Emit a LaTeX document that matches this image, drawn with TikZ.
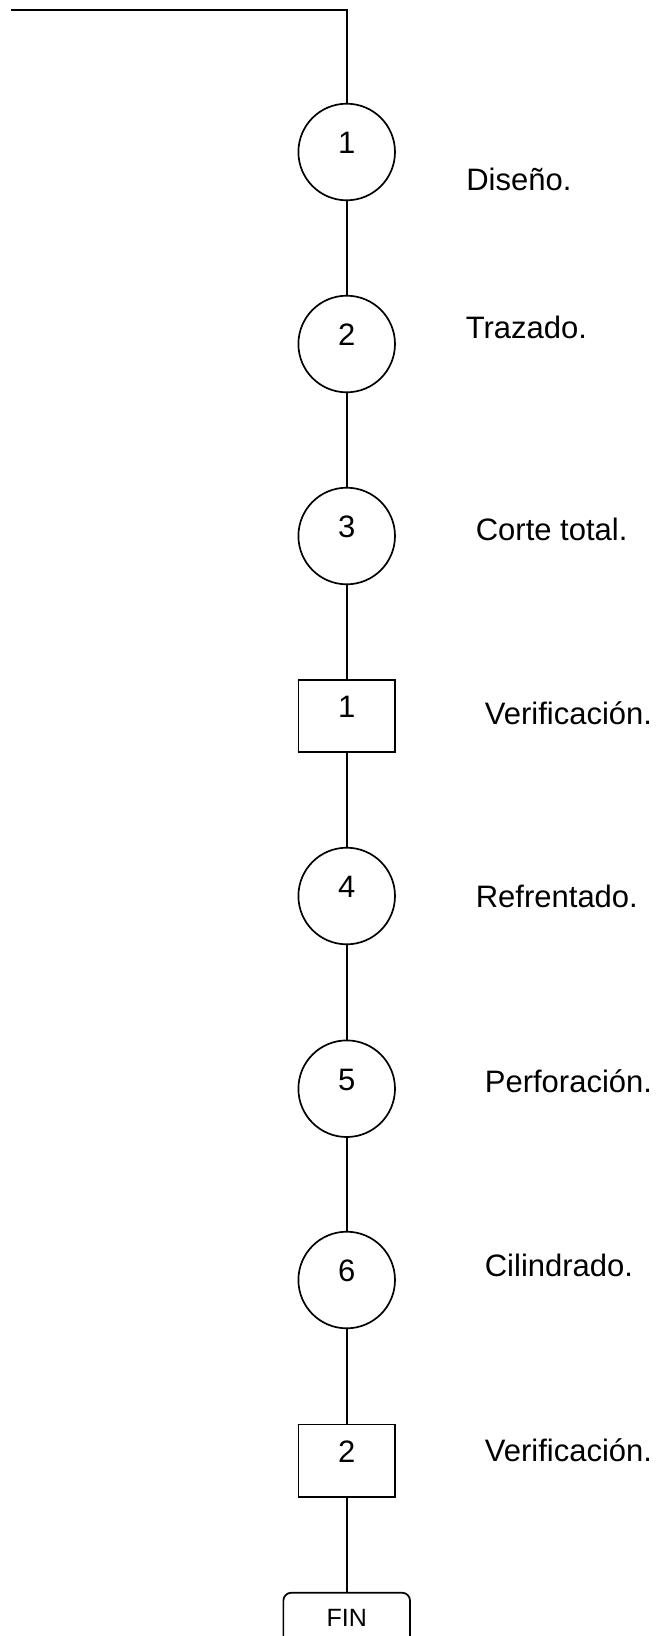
\documentclass[tikz,border=0pt]{standalone}
\usepackage{fontspec}
\setmainfont{Liberation Sans}
\begin{document}
\begin{tikzpicture}[x=1pt,y=-1pt,line width=1.7pt,
  oper/.style={draw,circle,inner sep=0pt,minimum size=96.6pt,font=\fontsize{31}{36}\selectfont,text height=0.716em,text depth=0.35em},
  insp/.style={draw,rectangle,inner sep=0pt,minimum width=96.7pt,minimum height=72.5pt,font=\fontsize{31}{36}\selectfont,text height=0.716em,text depth=0.35em},
  finbox/.style={draw,rectangle,rounded corners=8pt,inner sep=0pt,minimum width=126.7pt,minimum height=62.6pt,font=\fontsize{25}{30}\selectfont,text height=0.716em,text depth=0.29em},
  lbl/.style={anchor=base west,inner sep=0pt,font=\fontsize{31}{36}\selectfont}]
\clip (0,0) rectangle (660,1636);
\coordinate (start) at (11,9.7);
\coordinate (corner) at (346.7,9.7);
\node[oper] (o1) at (346.7,152) {1};
\node[oper] (o2) at (346.7,344) {2};
\node[oper] (o3) at (346.7,536) {3};
\node[insp] (i1) at (346.7,716) {1};
\node[oper] (o4) at (346.7,896) {4};
\node[oper] (o5) at (346.7,1088.7) {5};
\node[oper] (o6) at (346.7,1280) {6};
\node[insp] (i2) at (346.7,1460.7) {2};
\node[finbox] (fin) at (346.7,1624) {FIN};
\draw (start) -- (corner) -- (o1);
\draw (o1) -- (o2);
\draw (o2) -- (o3);
\draw (o3) -- (i1);
\draw (i1) -- (o4);
\draw (o4) -- (o5);
\draw (o5) -- (o6);
\draw (o6) -- (i2);
\draw (i2) -- (fin);
\node[lbl] (l1) at (465.5,190.5) {Diseño.};
\node[lbl] (l2) at (465,338.3) {Trazado.};
\node[lbl] (l3) at (475,540) {Corte total.};
\node[lbl] (l4) at (484,724) {Verificación.};
\node[lbl] (l5) at (475,907.3) {Refrentado.};
\node[lbl] (l6) at (484,1092) {Perforación.};
\node[lbl] (l7) at (484,1276) {Cilindrado.};
\node[lbl] (l8) at (484,1461) {Verificación.};
\end{tikzpicture}
\end{document}
